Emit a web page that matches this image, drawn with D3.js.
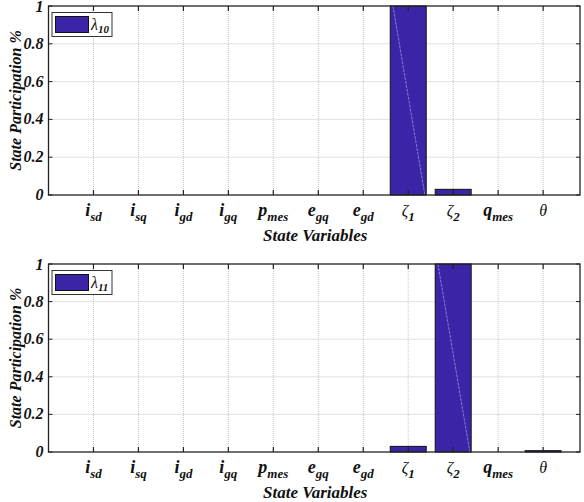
<!DOCTYPE html>
<html><head><meta charset="utf-8">
<script src="https://cdn.jsdelivr.net/npm/d3@7/dist/d3.min.js"></script>
<style>body{margin:0;background:#fff}svg{display:block}svg text{font-family:'Liberation Serif','Times New Roman',serif}</style>
</head><body>
<script>
const tickBase = ["i","i","i","i","p","e","e","ζ","ζ","q","θ"];
const tickSub  = ["sd","sq","gd","gq","mes","gq","gd","1","2","mes",""];
const yTicks = [0,0.2,0.4,0.6,0.8,1];
const yTickLabels = ["0","0.2","0.4","0.6","0.8","1"];
const lambda10 = [0,0,0,0,0,0,0,1,0.03,0,0];
const lambda11 = [0,0,0,0,0,0,0,0.03,1,0,0.007];
const legendSubs = ["10","11"];

const W=584,H=502;
const svg=d3.select("body").append("svg").attr("width",W).attr("height",H);
const barColor="#3b25a6";

const x=d3.scaleLinear().domain([0,11.82]).range([48.5,580]);
const panels=[{vals:lambda10,top:6,bottom:195,sub:legendSubs[0]},
              {vals:lambda11,top:264,bottom:452,sub:legendSubs[1]}];

panels.forEach(p=>{
  const y=d3.scaleLinear().domain([0,1]).range([p.bottom,p.top]);
  const g=svg.append("g");
  const idx=d3.range(1,tickBase.length+1);
  g.selectAll(".gx").data(idx).enter().append("line")
    .attr("x1",d=>x(d)).attr("x2",d=>x(d)).attr("y1",y(0)).attr("y2",y(1))
    .attr("stroke","#b5b5b5").attr("stroke-width",0.8).attr("stroke-dasharray","1,1");
  g.selectAll(".gy").data(yTicks.slice(1,-1)).enter().append("line")
    .attr("x1",x.range()[0]).attr("x2",x.range()[1]).attr("y1",d=>y(d)).attr("y2",d=>y(d))
    .attr("stroke","#b5b5b5").attr("stroke-width",0.8).attr("stroke-dasharray","1,1");
  const bw=0.8;
  const bars=g.selectAll(".bar").data(p.vals.map((v,i)=>({v,i:i+1})).filter(d=>d.v>0)).enter();
  bars.append("rect")
    .attr("x",d=>x(d.i-bw/2)).attr("width",d=>x(d.i+bw/2)-x(d.i-bw/2))
    .attr("y",d=>y(d.v)).attr("height",d=>y(0)-y(d.v))
    .attr("fill",barColor).attr("stroke","#111").attr("stroke-width",1);
  bars.filter(d=>d.v>0.5).append("line")
    .attr("x1",d=>x(d.i-bw/2+0.06)).attr("y1",d=>y(d.v))
    .attr("x2",d=>x(d.i+bw/2-0.03)).attr("y2",y(0))
    .attr("stroke","#a79de0").attr("stroke-width",0.7).attr("stroke-dasharray","3,1");
  const [x0,x1]=x.range();
  g.append("rect").attr("x",x0).attr("y",y(1)).attr("width",x1-x0).attr("height",y(0)-y(1))
    .attr("fill","none").attr("stroke","#222").attr("stroke-width",1.3);
  idx.forEach(d=>{
    g.append("line").attr("x1",x(d)).attr("x2",x(d)).attr("y1",y(0)).attr("y2",y(0)-5).attr("stroke","#222").attr("stroke-width",1.2);
    g.append("line").attr("x1",x(d)).attr("x2",x(d)).attr("y1",y(1)).attr("y2",y(1)+5).attr("stroke","#222").attr("stroke-width",1.2);
  });
  yTicks.forEach(d=>{
    g.append("line").attr("x1",x0).attr("x2",x0+4).attr("y1",y(d)).attr("y2",y(d)).attr("stroke","#222");
    g.append("line").attr("x1",x1).attr("x2",x1-4).attr("y1",y(d)).attr("y2",y(d)).attr("stroke","#222");
  });
  g.selectAll(".yl").data(yTicks).enter().append("text")
    .attr("x",x0-5).attr("y",(d)=>y(d)+(d===1?6:5)).attr("text-anchor","end")
    .style("font-size","16px").style("font-weight","bold").style("font-style","italic")
    .attr("fill","#111").text((d,i)=>yTickLabels[i]);
  idx.forEach((d,i)=>{
    const greek=(tickBase[i]==="ζ"||tickBase[i]==="θ");
    const t=g.append("text").attr("x",x(d)).attr("y",y(0)+21).attr("text-anchor","middle")
      .style("font-style","italic").attr("fill","#111");
    t.append("tspan").style("font-size",(greek?16:18)+"px").style("font-weight",greek?"normal":"bold").text(tickBase[i]);
    if(tickSub[i]) t.append("tspan").style("font-size","13px").style("font-weight","bold").attr("dy",5).text(tickSub[i]);
  });
  g.append("text").attr("x",(x0+x1)/2+1).attr("y",y(0)+46).attr("text-anchor","middle")
    .style("font-size","17px").style("font-weight","bold").style("font-style","italic")
    .attr("fill","#111").text("State Variables");
  g.append("text").attr("transform",`translate(21,${(y(0)+y(1))/2}) rotate(-90)`).attr("text-anchor","middle")
    .style("font-size","16px").style("font-weight","bold").style("font-style","italic")
    .attr("fill","#111").text("State Participation %");
  const lg=g.append("g").attr("transform",`translate(52,${y(1)+6.5})`);
  lg.append("rect").attr("x",0).attr("y",0).attr("width",60).attr("height",24)
    .attr("fill","#fff").attr("stroke","#333").attr("stroke-width",1);
  lg.append("rect").attr("x",3.5).attr("y",4).attr("width",33).attr("height",16)
    .attr("fill",barColor).attr("stroke","#111").attr("stroke-width",1);
  const lt=lg.append("text").attr("x",39).attr("y",17).attr("fill","#111");
  lt.append("tspan").style("font-size","16px").style("font-style","italic").text("λ");
  lt.append("tspan").style("font-size","11px").style("font-style","italic").style("font-weight","bold").attr("dy",3).text(p.sub);
});
</script>
</body></html>
